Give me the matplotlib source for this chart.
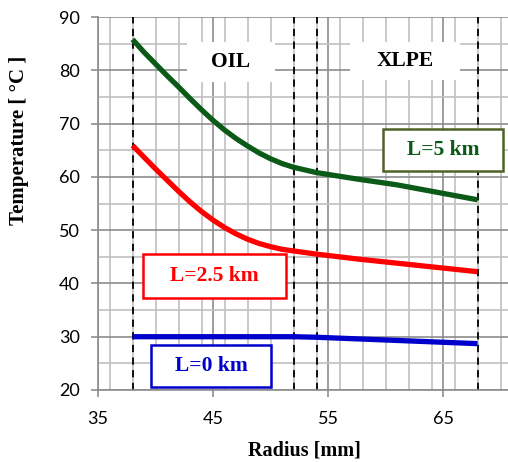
import matplotlib
matplotlib.use("Agg")
import matplotlib.pyplot as plt
from matplotlib.ticker import MultipleLocator

radius = [38, 39, 40, 41, 42, 43, 44, 45, 46, 47, 48, 49, 50, 51, 52, 54, 57.5, 61, 64.5, 68]
temp_5km = [85.8, 83.4, 81.2, 79.0, 76.9, 74.7, 72.6, 70.6, 68.8, 67.2, 65.8, 64.5, 63.4,
            62.5, 61.8, 60.8, 59.6, 58.5, 57.1, 55.7]
temp_2_5km = [65.9, 63.7, 61.5, 59.4, 57.3, 55.3, 53.5, 51.9, 50.5, 49.3, 48.3, 47.5, 46.9,
              46.4, 46.1, 45.5, 44.6, 43.8, 43.0, 42.2]
temp_0km = [30.0, 30.0, 30.0, 30.0, 30.0, 30.0, 30.0, 30.0, 30.0, 30.0, 30.0, 30.0, 30.0,
            30.0, 30.0, 29.9, 29.6, 29.3, 29.0, 28.7]
boundaries = [38, 52, 54, 68]
x_ticks = [35, 45, 55, 65]
y_ticks = [20, 30, 40, 50, 60, 70, 80, 90]

GREEN = "#0b5a17"
RED = "#ff0000"
BLUE = "#0000cc"

fig = plt.figure(figsize=(5.08, 4.62), dpi=100)
ax = fig.add_axes([98/508, 1-390/462, (508-98)/508, (390-17)/462])
ax.set_xlim(35, 35 + (508-98)/11.5)
ax.set_ylim(20, 90)

ax.xaxis.set_minor_locator(MultipleLocator(2))
ax.yaxis.set_minor_locator(MultipleLocator(5))
ax.set_xticks(x_ticks)
ax.set_yticks(y_ticks)
ax.grid(which="minor", color="#c0c0c0", linewidth=1.2)
ax.grid(which="major", color="#8c8c8c", linewidth=1.2)
ax.set_axisbelow(True)

for s in ["top", "right"]:
    ax.spines[s].set_visible(False)
for s in ["left", "bottom"]:
    ax.spines[s].set_color("#8c8c8c")
    ax.spines[s].set_linewidth(1.2)
ax.tick_params(which="major", direction="out", length=5, color="#8c8c8c", width=1.2,
               labelsize=13)
ax.tick_params(axis="y", pad=8)
ax.tick_params(axis="x", pad=10)
ax.tick_params(which="minor", length=0)
for lab in ax.get_xticklabels() + ax.get_yticklabels():
    lab.set_family(["Lato", "DejaVu Sans"])

for b in boundaries:
    ax.axvline(b, color="black", linestyle=(0, (4, 3)), linewidth=1.3, zorder=2)

for vals, col in [(temp_5km, GREEN), (temp_2_5km, RED), (temp_0km, BLUE)]:
    ax.plot(radius, vals, color=col, linewidth=3.8, solid_capstyle="butt",
            solid_joinstyle="round", zorder=3)

serif = ["Liberation Serif", "DejaVu Serif"]

def px(x, y):
    return (x/508, 1 - y/462)

# region labels with white backgrounds
for (x0, x1, y0, y1, t) in [(187, 275, 42, 82, "OIL"), (350, 460, 42, 80, "XLPE")]:
    fig.patches.append(plt.Rectangle(px(x0, y1), (x1-x0)/508, (y1-y0)/462,
                                     transform=fig.transFigure, facecolor="white",
                                     edgecolor="none", zorder=5))
    fig.text((x0+x1)/2/508, 1-(y0+y1)/2/462, t, family=serif, fontweight="bold",
             fontsize=15.5, ha="center", va="center", zorder=6)

for (x0, x1, y0, y1, t, ec, tc) in [
        (383, 503, 129, 171, "L=5 km", "#4f6228", GREEN),
        (143, 286, 254, 298, "L=2.5 km", RED, RED),
        (151, 271, 345, 387, "L=0 km", BLUE, BLUE)]:
    fig.patches.append(plt.Rectangle(px(x0, y1), (x1-x0)/508, (y1-y0)/462,
                                     transform=fig.transFigure, facecolor="white",
                                     edgecolor=ec, linewidth=1.8, zorder=5))
    fig.text((x0+x1)/2/508, 1-(y0+y1)/2/462, t, family=serif, fontweight="bold",
             fontsize=15.5, ha="center", va="center", color=tc, zorder=6)

fig.text(19/508, 1-140/462, "Temperature [ °C ]", family=serif, fontweight="bold",
         fontsize=15, rotation=90, ha="center", va="center")
fig.text(304/508, 1-450/462, "Radius [mm]", family=serif, fontweight="bold",
         fontsize=14.5, ha="center", va="center")

fig.savefig("out.png", dpi=100)
